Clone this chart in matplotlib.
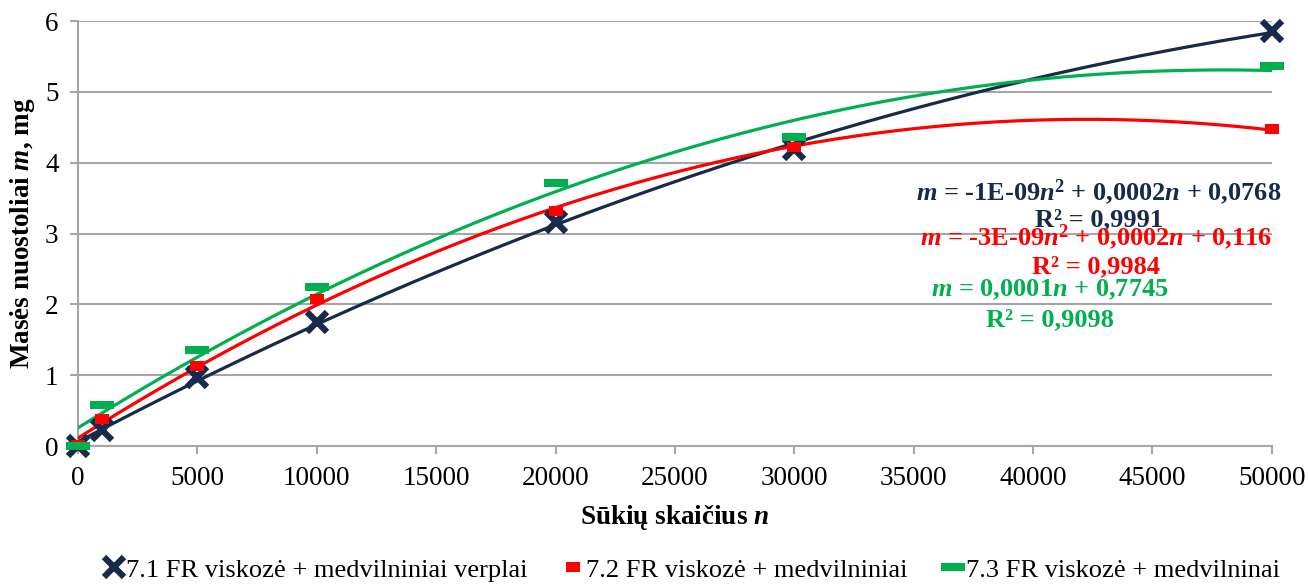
import numpy as np
import matplotlib.pyplot as plt
from matplotlib.lines import Line2D

plt.rcParams['font.family'] = ['Liberation Serif', 'DejaVu Serif']
plt.rcParams['mathtext.fontset'] = 'custom'
plt.rcParams['mathtext.rm'] = 'Liberation Serif'
plt.rcParams['mathtext.it'] = 'Liberation Serif:italic'
plt.rcParams['mathtext.bf'] = 'Liberation Serif:bold'
plt.rcParams['mathtext.bfit'] = 'Liberation Serif:italic:bold'

# data
n_turns = [0, 1000, 5000, 10000, 20000, 30000, 50000]
loss_71 = [0.0, 0.23, 0.98, 1.75, 3.17, 4.19, 5.86]
loss_72 = [0.02, 0.38, 1.13, 2.07, 3.32, 4.22, 4.47]
loss_73 = [0.0, 0.58, 1.36, 2.24, 3.71, 4.37, 5.36]

labels = ['7.1 FR viskozė + medvilniniai verplai',
          '7.2 FR viskozė + medvilniniai',
          '7.3 FR viskozė + medvilninai']
eq_texts = [r'$\mathbfit{m}$ = -1E-09$\mathbfit{n}^{\mathbf{2}}$ + 0,0002$\mathbfit{n}$ + 0,0768',
            r'$\mathbfit{m}$ = -3E-09$\mathbfit{n}^{\mathbf{2}}$ + 0,0002$\mathbfit{n}$ + 0,116',
            r'$\mathbfit{m}$ = 0,0001$\mathbfit{n}$ + 0,7745']
r2_texts = ['R² = 0,9991', 'R² = 0,9984', 'R² = 0,9098']

navy = '#172a4a'
red = '#ff0000'
green = '#00b050'
colors = [navy, red, green]

dash_green = [(-1, -0.36), (1, -0.36), (1, 0.36), (-1, 0.36)]
dash_red = [(-1, -0.75), (1, -0.75), (1, 0.75), (-1, 0.75)]
marker_kw = [dict(marker='x', ms=14, mew=4.5),
             dict(marker=dash_red, ms=10, mew=0),
             dict(marker=dash_green, ms=17, mew=0)]

fig = plt.figure(figsize=(13.09, 5.84), dpi=100)
ax = fig.add_axes([0.0596, 0.236, 0.912, 0.728])

xs = np.linspace(0, 50000, 300)
series = [loss_71, loss_72, loss_73]
for ys, c, mk in zip(series, colors, marker_kw):
    coef = np.polyfit(n_turns, ys, 2)
    ax.plot(xs, np.polyval(coef, xs), color=c, lw=2.3, zorder=3)
    ax.plot(n_turns, ys, ls='none', color=c, mec=c, mfc=c, clip_on=False,
            zorder=4, **mk)

# trendline labels
eq_pos = [(42750, 3.59, 3.19), (42650, 2.95, 2.53), (40700, 2.20, 1.79)]
for (x, ye, yr), eq, r2, c in zip(eq_pos, eq_texts, r2_texts, colors):
    ax.text(x, ye, eq, color=c, fontsize=19, fontweight='bold',
            ha='center', va='center', zorder=5)
    ax.text(x, yr, r2, color=c, fontsize=19, fontweight='bold',
            ha='center', va='center', zorder=5)

ax.set_xlim(0, 50000)
ax.set_ylim(0, 6)
ax.set_xticks(range(0, 50001, 5000))
ax.set_yticks(range(0, 7))
ax.yaxis.grid(True, color='#a6a6a6', lw=1.5)
ax.set_axisbelow(True)
for s in ['top', 'right']:
    ax.spines[s].set_visible(False)
for s in ['left', 'bottom']:
    ax.spines[s].set_color('#a6a6a6')
    ax.spines[s].set_linewidth(1.5)
ax.tick_params(axis='both', colors='#a6a6a6', labelcolor='black',
               labelsize=19.5, length=6, width=1.5)
ax.tick_params(axis='x', pad=8)
ax.tick_params(axis='y', pad=8)

ax.set_xlabel(r'Sūkių skaičius $\mathbfit{n}$', fontsize=19.5,
              fontweight='bold', labelpad=9)
ax.set_ylabel(r'Masės nuostoliai $\mathbfit{m}$, mg', fontsize=19.5,
              fontweight='bold', labelpad=6)

handles = [Line2D([], [], ls='none', color=c, mec=c, mfc=c, **mk)
           for c, mk in zip(colors, marker_kw)]
fig.legend(handles, labels, loc='center', bbox_to_anchor=(0.5285, 0.024),
           ncol=3, frameon=False, fontsize=19, handlelength=0.75,
           handletextpad=0.1, columnspacing=1.35)

fig.savefig('out.png', dpi=100)
